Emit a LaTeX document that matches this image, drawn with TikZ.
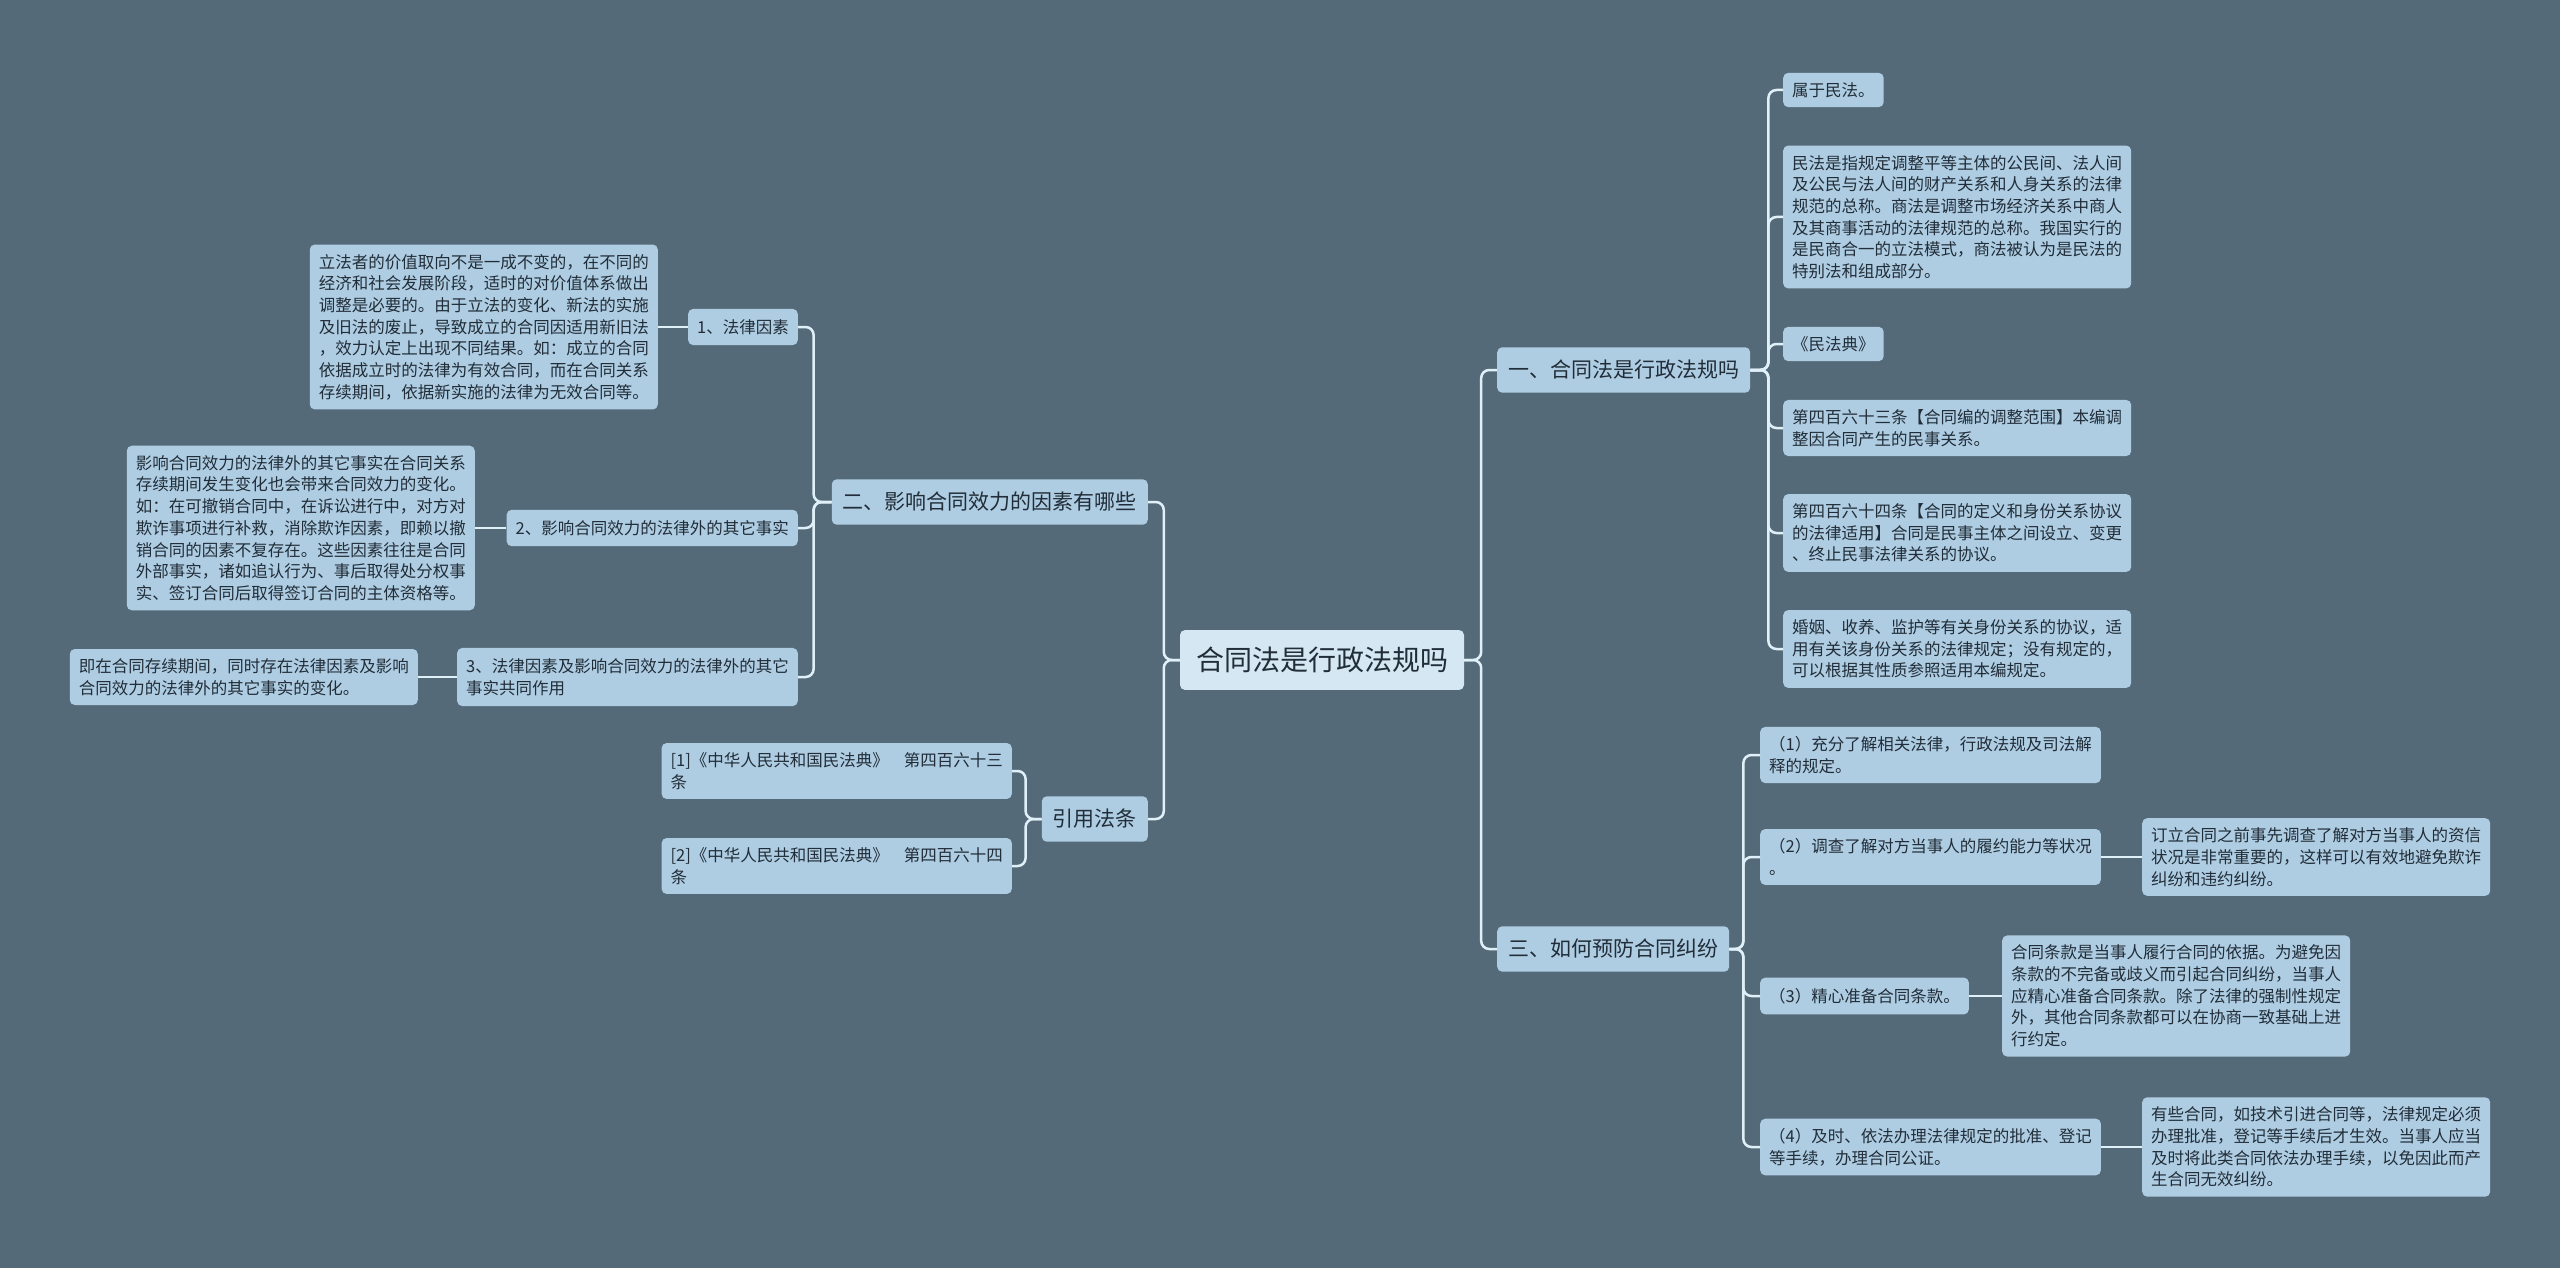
\documentclass[tikz,border=0pt]{standalone}
\usepackage{fontspec}
\setmainfont{Noto Sans CJK SC}
\definecolor{bgslate}{RGB}{85,106,121}
\definecolor{boxblue}{RGB}{175,205,226}
\definecolor{rootblue}{RGB}{212,231,242}
\definecolor{linkblue}{RGB}{224,240,248}
\definecolor{inkgray}{RGB}{33,45,56}
\tikzset{
  topic/.style={fill=boxblue,text=inkgray,rounded corners=5pt,align=left,inner xsep=9pt,inner ysep=9.5pt,font=\fontsize{16.5}{21.7}\selectfont},
  mainbox/.style={topic,fill=rootblue,inner xsep=16pt,inner ysep=17pt,font=\fontsize{28}{34}\selectfont},
  branch/.style={topic,inner xsep=11pt,inner ysep=13pt,font=\fontsize{21}{26}\selectfont},
  sub/.style={topic,inner ysep=10.5pt},
  link/.style={draw=linkblue,line width=2.5pt,rounded corners=8pt},
}
\begin{document}
\begin{tikzpicture}[x=1pt,y=-1pt]
\fill[bgslate] (0,0) rectangle (2560,1268);
\node[mainbox] (main) at (1322,660) {合同法是行政法规吗};
% left side
\node[branch,anchor=east] (factors) at (1148,502) {二、影响合同效力的因素有哪些};
\node[branch,anchor=east] (cite) at (1148,819) {引用法条};
\node[sub,anchor=east] (law) at (798,327) {1、法律因素};
\node[sub,anchor=east] (fact) at (798,528) {2、影响合同效力的法律外的其它事实};
\node[sub,anchor=east] (both) at (798,677) {3、法律因素及影响合同效力的法律外的其它\\事实共同作用};
\node[topic,anchor=east] (lawnote) at (658,327) {立法者的价值取向不是一成不变的，在不同的\\经济和社会发展阶段，适时的对价值体系做出\\调整是必要的。由于立法的变化、新法的实施\\及旧法的废止，导致成立的合同因适用新旧法\\，效力认定上出现不同结果。如：成立的合同\\依据成立时的法律为有效合同，而在合同关系\\存续期间，依据新实施的法律为无效合同等。};
\node[topic,anchor=east] (factnote) at (475,528) {影响合同效力的法律外的其它事实在合同关系\\存续期间发生变化也会带来合同效力的变化。\\如：在可撤销合同中，在诉讼进行中，对方对\\欺诈事项进行补救，消除欺诈因素，即赖以撤\\销合同的因素不复存在。这些因素往往是合同\\外部事实，诸如追认行为、事后取得处分权事\\实、签订合同后取得签订合同的主体资格等。};
\node[topic,anchor=east] (bothnote) at (418,677) {即在合同存续期间，同时存在法律因素及影响\\合同效力的法律外的其它事实的变化。};
\node[topic,anchor=east] (art463) at (1012,771) {[1]《中华人民共和国民法典》\hspace{0.9em}第四百六十三\\条};
\node[topic,anchor=east] (art464) at (1012,866) {[2]《中华人民共和国民法典》\hspace{0.9em}第四百六十四\\条};
% right side
\node[branch,anchor=west] (civil) at (1497,370) {一、合同法是行政法规吗};
\node[branch,anchor=west] (prevent) at (1497,949) {三、如何预防合同纠纷};
\node[topic,anchor=west] (civ1) at (1783,90) {属于民法。};
\node[topic,anchor=west] (civ2) at (1783,217) {民法是指规定调整平等主体的公民间、法人间\\及公民与法人间的财产关系和人身关系的法律\\规范的总称。商法是调整市场经济关系中商人\\及其商事活动的法律规范的总称。我国实行的\\是民商合一的立法模式，商法被认为是民法的\\特别法和组成部分。};
\node[topic,anchor=west] (civ3) at (1783,344) {《民法典》};
\node[topic,anchor=west] (civ4) at (1783,428) {第四百六十三条【合同编的调整范围】本编调\\整因合同产生的民事关系。};
\node[topic,anchor=west] (civ5) at (1783,533) {第四百六十四条【合同的定义和身份关系协议\\的法律适用】合同是民事主体之间设立、变更\\、终止民事法律关系的协议。};
\node[topic,anchor=west] (civ6) at (1783,649) {婚姻、收养、监护等有关身份关系的协议，适\\用有关该身份关系的法律规定；没有规定的，\\可以根据其性质参照适用本编规定。};
\node[topic,anchor=west] (step1) at (1760,755) {（1）充分了解相关法律，行政法规及司法解\\释的规定。};
\node[topic,anchor=west] (step2) at (1760,857) {（2）调查了解对方当事人的履约能力等状况\\。};
\node[sub,anchor=west] (step3) at (1760,996) {（3）精心准备合同条款。};
\node[topic,anchor=west] (step4) at (1760,1147) {（4）及时、依法办理法律规定的批准、登记\\等手续，办理合同公证。};
\node[topic,anchor=west] (step2note) at (2142,857) {订立合同之前事先调查了解对方当事人的资信\\状况是非常重要的，这样可以有效地避免欺诈\\纠纷和违约纠纷。};
\node[topic,anchor=west] (step3note) at (2002,996) {合同条款是当事人履行合同的依据。为避免因\\条款的不完备或歧义而引起合同纠纷，当事人\\应精心准备合同条款。除了法律的强制性规定\\外，其他合同条款都可以在协商一致基础上进\\行约定。};
\node[topic,anchor=west] (step4note) at (2142,1147) {有些合同，如技术引进合同等，法律规定必须\\办理批准，登记等手续后才生效。当事人应当\\及时将此类合同依法办理手续，以免因此而产\\生合同无效纠纷。};
% connectors
\foreach \n in {factors,cite} \draw[link] (main.west) -- ++(-16,0) |- (\n.east);
\foreach \n in {civil,prevent} \draw[link] (main.east) -- ++(17,0) |- (\n.west);
\foreach \n in {law,fact,both} \draw[link] (factors.west) -- ++(-18,0) |- (\n.east);
\foreach \n in {art463,art464} \draw[link] (cite.west) -- ++(-16,0) |- (\n.east);
\foreach \n in {civ1,civ2,civ3,civ4,civ5,civ6} \draw[link] (civil.east) -- ++(18,0) |- (\n.west);
\foreach \n in {step1,step2,step3,step4} \draw[link] (prevent.east) -- ++(14,0) |- (\n.west);
\draw[link] (law.west) -- (lawnote.east);
\draw[link] (fact.west) -- (factnote.east);
\draw[link] (both.west) -- (bothnote.east);
\draw[link] (step2.east) -- (step2note.west);
\draw[link] (step3.east) -- (step3note.west);
\draw[link] (step4.east) -- (step4note.west);
\end{tikzpicture}
\end{document}
